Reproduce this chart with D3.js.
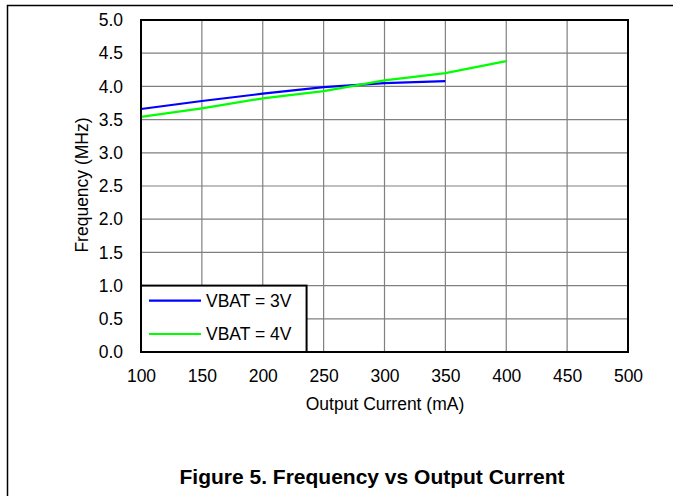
<!DOCTYPE html>
<html>
<head>
<meta charset="utf-8">
<script src="https://cdn.jsdelivr.net/npm/d3@7"></script>
<style>
  body { margin: 0; background: #fff; }
  text { font-family: "Liberation Sans", Arial, sans-serif; }
</style>
</head>
<body>
<div id="chart"></div>
<script>
// data
var currents = [100, 150, 200, 250, 300, 350, 400];
var vbat3 = [3.66, 3.78, 3.89, 3.99, 4.05, 4.08];
var vbat4 = [3.54, 3.67, 3.82, 3.93, 4.09, 4.20, 4.38];
var xTicks = [100, 150, 200, 250, 300, 350, 400, 450, 500];
var yTicks = [0, 0.5, 1, 1.5, 2, 2.5, 3, 3.5, 4, 4.5, 5];
var seriesNames = ["VBAT = 3V", "VBAT = 4V"];
var seriesColors = ["#0000ff", "#00ff00"];

var W = 673, H = 496;
var margin = {top: 20, right: 45, bottom: 144, left: 141},
    width = 628 - margin.left,
    height = 352 - margin.top;
var fs = "17.5px";

var svg = d3.select("#chart").append("svg")
    .attr("width", W).attr("height", H);

// outer frame (top + left rule)
svg.append("path")
    .attr("d", "M7.5," + H + "V5.5H" + W)
    .attr("fill", "none").attr("stroke", "#000").attr("stroke-width", 1.5);

var g = svg.append("g")
    .attr("transform", "translate(" + margin.left + "," + margin.top + ")");

var x = d3.scaleLinear().domain([100, 500]).range([0, width]);
var y = d3.scaleLinear().domain([0, 5]).range([height, 0]);

// grid
g.selectAll(".vgrid").data(xTicks).enter().append("line")
    .attr("x1", function(d) { return x(d); }).attr("x2", function(d) { return x(d); })
    .attr("y1", 0).attr("y2", height)
    .attr("stroke", "#808080").attr("stroke-width", 1.2);
g.selectAll(".hgrid").data(yTicks).enter().append("line")
    .attr("y1", function(d) { return y(d); }).attr("y2", function(d) { return y(d); })
    .attr("x1", 0).attr("x2", width)
    .attr("stroke", "#808080").attr("stroke-width", 1.2);

// axes (labels only)
var xAxis = g.append("g").attr("transform", "translate(0," + height + ")")
    .call(d3.axisBottom(x).tickValues(xTicks).tickSize(0).tickPadding(18).tickFormat(d3.format("d")));
var yAxis = g.append("g")
    .call(d3.axisLeft(y).tickValues(yTicks).tickSize(0).tickPadding(18).tickFormat(d3.format(".1f")));
[xAxis, yAxis].forEach(function(a) {
    a.select(".domain").remove();
    a.selectAll("text").attr("font-size", fs).attr("fill", "#000")
      .attr("font-family", "Liberation Sans, Arial, sans-serif");
});

// lines
var line = d3.line()
    .x(function(d, i) { return x(currents[i]); })
    .y(function(d) { return y(d); });
[vbat3, vbat4].forEach(function(s, i) {
    g.append("path").datum(s)
      .attr("d", line)
      .attr("fill", "none")
      .attr("stroke", seriesColors[i])
      .attr("stroke-width", 2.2);
});

// plot border
g.append("rect")
    .attr("x", 0).attr("y", 0).attr("width", width).attr("height", height)
    .attr("fill", "none").attr("stroke", "#000").attr("stroke-width", 2);

// legend
var lg = g.append("g");
lg.append("rect")
    .attr("x", 0).attr("y", y(1)).attr("width", x(236) - x(100)).attr("height", height - y(1))
    .attr("fill", "#fff").attr("stroke", "#000").attr("stroke-width", 2);
seriesNames.forEach(function(n, i) {
    var ly = y(1) + 15 + i * 33.4;
    lg.append("line")
      .attr("x1", 8).attr("x2", 60).attr("y1", ly).attr("y2", ly)
      .attr("stroke", seriesColors[i]).attr("stroke-width", 2.2);
    lg.append("text")
      .attr("x", 65).attr("y", ly + 6.3)
      .attr("font-size", fs).text(n);
});

// axis titles
svg.append("text")
    .attr("x", 385).attr("y", 410)
    .attr("text-anchor", "middle").attr("font-size", fs)
    .text("Output Current (mA)");
svg.append("text")
    .attr("transform", "translate(88,185) rotate(-90)")
    .attr("text-anchor", "middle").attr("font-size", fs)
    .text("Frequency (MHz)");

// caption
svg.append("text")
    .attr("x", 372).attr("y", 484)
    .attr("text-anchor", "middle").attr("font-size", "21px").attr("font-weight", "bold")
    .text("Figure 5. Frequency vs Output Current");
</script>
</body>
</html>
